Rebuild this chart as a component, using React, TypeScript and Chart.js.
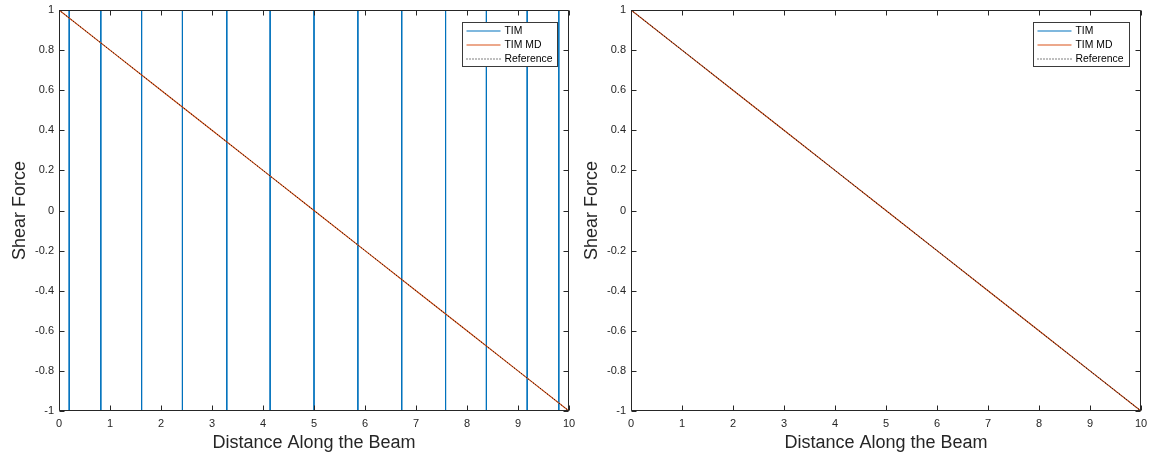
import React, { useEffect, useRef } from "react";
import { Chart, registerables } from "chart.js";

Chart.register(...registerables);

// ---- data ----
const beamX = [0, 1, 2, 3, 4, 5, 6, 7, 8, 9, 10];
const referenceShear = [1, 0.8, 0.6, 0.4, 0.2, 0, -0.2, -0.4, -0.6, -0.8, -1];
const timMdShear = [1, 0.8, 0.6, 0.4, 0.2, 0, -0.2, -0.4, -0.6, -0.8, -1];
const timShearRight = [1, 0.8, 0.6, 0.4, 0.2, 0, -0.2, -0.4, -0.6, -0.8, -1];
// left panel: TIM blows up (vertical spikes) at these positions
const timSpikeX = [0.2, 0.82, 1.62, 2.42, 3.29, 4.14, 5.0, 5.86, 6.72, 7.58, 8.38, 9.18, 9.8];
const timSpikeLow = -50;
const timSpikeHigh = 50;
const xTickValues = [0, 1, 2, 3, 4, 5, 6, 7, 8, 9, 10];
const yTickValues = [-1, -0.8, -0.6, -0.4, -0.2, 0, 0.2, 0.4, 0.6, 0.8, 1];
const seriesLabels = ["TIM", "TIM MD", "Reference"];
const xTitle = "Distance Along the Beam";
const yTitle = "Shear Force";

// ---- styles ----
const FONT = '"Liberation Sans", Arial, Helvetica, sans-serif';
const AXIS_COLOR = "#262626";
const C_TIM = "#0072BD";
const C_MD = "#D95319";
const C_REF = "#000000";

const pts = (xs: number[], ys: number[]) => xs.map((x, i) => ({ x, y: ys[i] }));

const spikePts = () => {
  const out: any[] = [];
  timSpikeX.forEach((x) => {
    out.push({ x, y: timSpikeHigh });
    out.push({ x, y: timSpikeLow });
    out.push({ x, y: null });
  });
  return out;
};

const matlabFrame = {
  id: "matlabFrame",
  afterDatasetsDraw(chart: any, _args: any, opts: any) {
    const { ctx, chartArea: a, scales } = chart;
    ctx.save();
    ctx.strokeStyle = AXIS_COLOR;
    ctx.lineWidth = 1;
    const L = Math.round(a.left) + 0.5;
    const R = Math.round(a.right) - 0.5;
    const T = Math.round(a.top) + 0.5;
    const B = Math.round(a.bottom) - 0.5;
    ctx.beginPath();
    ctx.rect(L, T, R - L, B - T);
    ctx.stroke();
    const tl = 5;
    ctx.beginPath();
    scales.x.ticks.forEach((t: any) => {
      const p = Math.round(scales.x.getPixelForValue(t.value)) + 0.5;
      ctx.moveTo(p, B);
      ctx.lineTo(p, B - tl);
      ctx.moveTo(p, T);
      ctx.lineTo(p, T + tl);
    });
    scales.y.ticks.forEach((t: any) => {
      const p = Math.round(scales.y.getPixelForValue(t.value)) + 0.5;
      ctx.moveTo(L, p);
      ctx.lineTo(L + tl, p);
      ctx.moveTo(R, p);
      ctx.lineTo(R - tl, p);
    });
    ctx.stroke();

    // legend box
    const w = opts.legendWidth || 95;
    const h = 44;
    const x0 = Math.round(a.right - (opts.legendRight || 12) - w) + 0.5;
    const y0 = Math.round(a.top + 12) + 0.5;
    ctx.fillStyle = "#ffffff";
    ctx.fillRect(x0, y0, w, h);
    ctx.strokeStyle = "#3a3a3a";
    ctx.strokeRect(x0, y0, w, h);
    ctx.font = `10.4px ${FONT}`;
    ctx.textBaseline = "middle";
    ctx.textAlign = "left";
    chart.data.datasets.forEach((ds: any, i: number) => {
      const yy = Math.round(y0 + 8 + i * 14);
      ctx.beginPath();
      ctx.strokeStyle = ds.borderColor;
      ctx.lineWidth = 1.2;
      ctx.setLineDash(ds.borderDash || []);
      ctx.moveTo(x0 + 4, yy);
      ctx.lineTo(x0 + 38, yy);
      ctx.stroke();
      ctx.setLineDash([]);
      ctx.fillStyle = "#000000";
      ctx.fillText(ds.label, x0 + 42, yy + 0.5);
    });
    ctx.restore();
  },
};

type PanelProps = {
  width: number;
  left: number;
  yAxisWidth: number;
  padRight: number;
  yTitlePad: number;
  legendRight: number;
  legendWidth: number;
  datasets: any[];
};

function Panel(p: PanelProps) {
  const ref = useRef<HTMLCanvasElement | null>(null);
  useEffect(() => {
    if (!ref.current) return;
    const chart = new Chart(ref.current, {
      type: "line",
      data: { datasets: p.datasets },
      plugins: [matlabFrame],
      options: {
        responsive: false,
        animation: false,
        layout: { padding: { top: 10, right: p.padRight, left: 0, bottom: 0 } },
        plugins: {
          legend: { display: false },
          tooltip: { enabled: false },
          matlabFrame: { legendRight: p.legendRight, legendWidth: p.legendWidth },
        } as any,
        elements: { point: { radius: 0 }, line: { tension: 0 } },
        scales: {
          x: {
            type: "linear",
            min: 0,
            max: 10,
            afterBuildTicks: (s: any) => {
              s.ticks = xTickValues.map((v) => ({ value: v }));
            },
            afterFit: (s: any) => {
              s.height = 47;
              s.paddingLeft = 0;
              s.paddingRight = 0;
            },
            grid: { display: true, drawOnChartArea: false, drawTicks: false },
            border: { display: false },
            ticks: {
              padding: 6,
              color: AXIS_COLOR,
              font: { family: FONT, size: 11 },
              maxRotation: 0,
              callback: (v: any) => String(Number(Number(v).toFixed(1))),
            },
            title: {
              display: true,
              text: xTitle,
              color: AXIS_COLOR,
              font: { family: FONT, size: 18 },
              padding: { top: 0, bottom: 4 },
            },
          },
          y: {
            type: "linear",
            min: -1,
            max: 1,
            afterBuildTicks: (s: any) => {
              s.ticks = yTickValues.map((v) => ({ value: v }));
            },
            afterFit: (s: any) => {
              s.width = p.yAxisWidth;
              s.paddingTop = 0;
              s.paddingBottom = 0;
            },
            grid: { display: true, drawOnChartArea: false, drawTicks: false },
            border: { display: false },
            ticks: {
              padding: 5,
              color: AXIS_COLOR,
              font: { family: FONT, size: 11 },
              callback: (v: any) => String(Number(Number(v).toFixed(1))),
            },
            title: {
              display: true,
              text: yTitle,
              color: AXIS_COLOR,
              font: { family: FONT, size: 18 },
              padding: { top: p.yTitlePad, bottom: 0 },
            },
          },
        },
      },
    });
    return () => chart.destroy();
  }, []);
  return (
    <canvas
      ref={ref}
      width={p.width}
      height={458}
      style={{ position: "absolute", left: p.left, top: 0, width: p.width, height: 458, display: "block" }}
    />
  );
}

export default function App() {
  const leftSets = [
    { label: seriesLabels[0], data: spikePts(), borderColor: C_TIM, borderWidth: 1, order: 3, spanGaps: false },
    { label: seriesLabels[1], data: pts(beamX, timMdShear), borderColor: C_MD, borderWidth: 1.2, order: 2 },
    { label: seriesLabels[2], data: pts(beamX, referenceShear), borderColor: C_REF, borderWidth: 1, borderDash: [1, 2], order: 1 },
  ];
  const rightSets = [
    { label: seriesLabels[0], data: pts(beamX, timShearRight), borderColor: C_TIM, borderWidth: 1, order: 3 },
    { label: seriesLabels[1], data: pts(beamX, timMdShear), borderColor: C_MD, borderWidth: 1.2, order: 2 },
    { label: seriesLabels[2], data: pts(beamX, referenceShear), borderColor: C_REF, borderWidth: 1, borderDash: [1, 2], order: 1 },
  ];
  return (
    <div style={{ position: "fixed", left: 0, top: 0, width: 1151, height: 458, background: "#ffffff" }}>
      <Panel width={575} left={0} yAxisWidth={59} padRight={6} yTitlePad={9} legendRight={12} legendWidth={95} datasets={leftSets} />
      <Panel width={576} left={575} yAxisWidth={56} padRight={10} yTitlePad={6} legendRight={12} legendWidth={96} datasets={rightSets} />
    </div>
  );
}
